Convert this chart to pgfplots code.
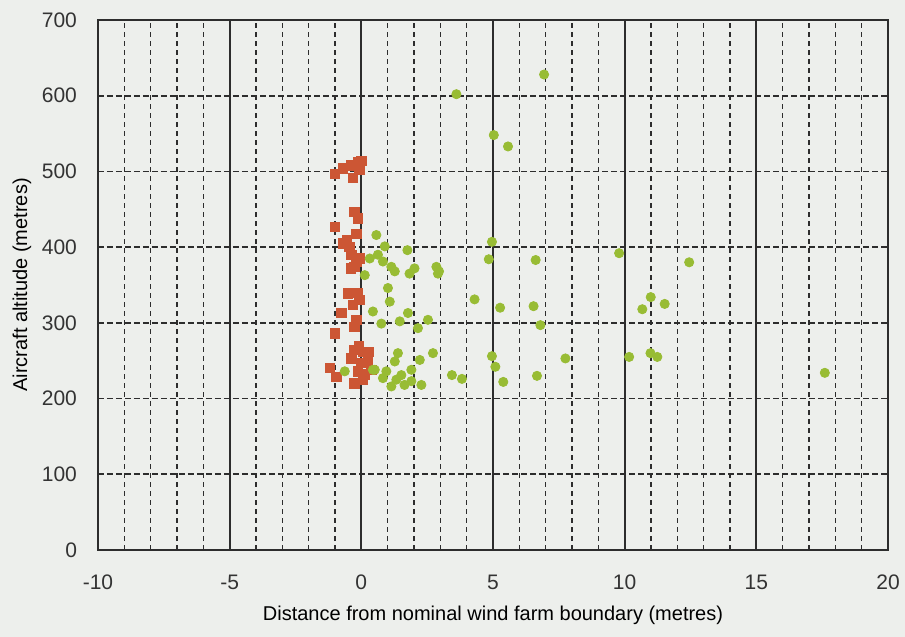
\documentclass[border=0pt]{standalone}
\usepackage{pgfplots}
\pgfplotsset{compat=1.18}
\usepackage{pgfplotstable}
\usepackage{fontspec}
\setmainfont{Liberation Sans}

\definecolor{bgpaper}{RGB}{237,239,236}
\definecolor{gridgrey}{RGB}{45,45,45}
\definecolor{redpts}{RGB}{204,86,52}
\definecolor{greenpts}{RGB}{152,188,52}

% Aircraft flagged inside the boundary
\pgfplotstableread{
x y
-0.13 512
-0.38 508
-0.70 504
-1.00 497
-0.32 491
-0.07 502
0.00 514
-0.26 447
-0.13 438
-1.00 427
-0.19 418
-0.70 405
-0.45 400
-0.38 390
-0.19 381
-0.26 374
-0.07 385
-0.50 339
-0.07 330
-0.32 324
-0.76 313
-0.19 304
-0.26 295
-1.00 286
-0.26 264
0.06 262
-0.38 253
0.00 247
-1.20 240
-0.95 229
-0.13 236
0.06 225
-0.26 220
0.38 238
0.25 251
0.30 262
-0.10 270
0.15 232
-0.55 410
-0.40 372
-0.15 340
}\redtable

% Aircraft outside the boundary
\pgfplotstableread{
x y
3.61 602
6.94 628
5.03 548
5.57 533
4.96 407
4.84 384
6.62 383
9.79 392
12.45 380
2.95 368
4.30 331
5.27 320
6.54 322
6.80 297
10.99 334
10.67 318
11.52 325
4.96 256
5.09 242
5.39 222
3.44 231
3.82 226
6.67 230
7.75 253
10.17 255
10.98 260
11.24 255
17.60 234
0.57 416
0.89 401
1.75 396
0.63 390
0.32 385
0.82 381
1.14 374
1.27 368
2.02 372
1.83 365
2.85 374
2.91 365
0.13 363
1.01 346
1.08 328
0.44 315
1.77 313
2.53 304
0.76 299
1.46 302
2.15 293
2.72 260
2.22 251
1.39 260
1.27 249
1.90 238
0.51 238
0.95 236
1.52 231
1.14 216
1.64 218
2.28 218
0.82 227
1.90 223
1.33 225
-0.63 236
0.44 238
}\greentable

\begin{document}
\begin{tikzpicture}
\fill[bgpaper] (-49pt,-43.5pt) rectangle (403.5pt,275pt);
\useasboundingbox (-49pt,-43.5pt) rectangle (403.5pt,275pt);
\begin{axis}[
  scale only axis,
  width=395pt, height=265pt,
  xmin=-10, xmax=20, ymin=0, ymax=700,
  xtick={-10,-5,...,20},
  minor xtick={-9,-8,-7,-6,-4,-3,-2,-1,1,2,3,4,6,7,8,9,11,12,13,14,16,17,18,19},
  ytick={0,100,...,700},
  major tick length=0pt, minor tick length=0pt,
  xmajorgrids, xminorgrids, ymajorgrids,
  major x grid style={gridgrey, line width=0.85pt, solid},
  minor x grid style={gridgrey, line width=0.8pt, dash pattern=on 2.5pt off 2pt},
  major y grid style={gridgrey, line width=0.8pt, dash pattern=on 3pt off 1.5pt},
  axis line style={gridgrey, line width=0.85pt},
  axis background/.style={fill=bgpaper},
  tick label style={font=\fontsize{10.5}{12}\selectfont, text=black!80},
  /pgf/number format/assume math mode=true,
  xticklabel style={yshift=-9pt},
  yticklabel style={xshift=-7pt},
  xlabel={Distance from nominal wind farm boundary (metres)},
  ylabel={Aircraft altitude (metres)},
  label style={font=\fontsize{10.5}{12}\selectfont, text=black!80},
  every axis x label/.style={at={(axis description cs:0.5,0)}, anchor=center, yshift=-32.5pt},
  every axis y label/.style={at={(axis description cs:0,0.5)}, anchor=center, rotate=90, yshift=38pt},
]
\addplot[only marks, mark=square*, mark size=2.3pt, redpts, mark options={draw=redpts, fill=redpts}] table[x=x, y=y] {\redtable};
\addplot[only marks, mark=*, mark size=2.3pt, greenpts, mark options={draw=greenpts, fill=greenpts}] table[x=x, y=y] {\greentable};
\end{axis}
\end{tikzpicture}
\end{document}
